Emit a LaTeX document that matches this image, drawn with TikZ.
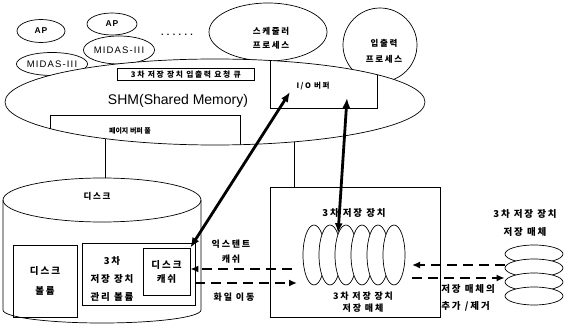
\documentclass[tikz,border=0pt]{standalone}
\usepackage{fontspec}
\setmainfont{Liberation Sans}
\newfontfamily\kr[LetterSpace=20]{Noto Sans CJK KR}
\newfontfamily\krtight{Noto Sans CJK KR}
\newfontfamily\lat[LetterSpace=12]{Liberation Sans}
\usetikzlibrary{shapes.geometric, arrows.meta}

\begin{document}
\begin{tikzpicture}[x=1pt, y=-1pt, >=latex, line width=0.7pt,
    proc/.style={draw, ellipse, fill=white, inner sep=0pt},
    kor/.style={font=\kr\bfseries\fontsize{#1}{14}\selectfont, align=center, inner sep=0pt},
    kor/.default=8.5,
    bigarrow/.style={{Latex[length=10pt,width=8pt]}-{Latex[length=10pt,width=8pt]}, line width=2.8pt},
    dasharrow/.style={-{Latex[length=8pt,width=7pt]}, line width=2.4pt, dash pattern=on 10pt off 6pt}]
  \useasboundingbox (0,0) rectangle (566,326);

  \def\Nmedia{5}
  \def\mrx{11}
  \def\mry{30}

  % processes on top of the shared memory
  \node[proc, minimum width=48, minimum height=23, font=\lat\bfseries\fontsize{8.5}{9}\selectfont] (ap1) at (41,31) {AP};
  \node[proc, minimum width=50, minimum height=22, font=\lat\bfseries\fontsize{8.5}{9}\selectfont] (ap2) at (112,24) {AP};
  \node[proc, minimum width=67, minimum height=23, font=\lat\fontsize{9.5}{9}\selectfont] (midas1) at (52,64) {MIDAS-III};
  \node[proc, minimum width=66, minimum height=28, font=\lat\fontsize{9.5}{9}\selectfont] (midas2) at (119,50) {MIDAS-III};
  \node[font=\bfseries\fontsize{9}{9}\selectfont] (more) at (177,35) {. . . . . .};
  \node[proc, minimum width=118, minimum height=58] (sched) at (268,32) {};
  \node[kor] (schedtxt) at (271,38) {스케줄러\\프로세스};
  \node[proc, minimum width=74, minimum height=74] (iop) at (380,45) {};
  \node[kor] (ioptxt) at (384,51) {입출력\\[2pt]프로세스};

  % shared memory
  \node[draw, ellipse, fill=white, inner sep=0pt, minimum width=420, minimum height=86] (shm) at (215,102) {};
  \node[font=\fontsize{14}{14}\selectfont] (shmtxt) at (178,101) {SHM(Shared Memory)};
  \node[draw, kor=7.8, minimum width=137, minimum height=12, anchor=north west] (queue) at (117,68) {3차 저장 장치 입출력 요청 큐};
  \begin{scope}
    \clip (shm.center) ellipse [x radius=210, y radius=43];
    \draw (270,40) rectangle (377,108);
    \draw (50,115) rectangle (240,170);
  \end{scope}
  \node[kor=7.5] (iobuf) at (313,86) {I/O 버퍼};
  \node[font=\krtight\bfseries\fontsize{7}{8}\selectfont, inner sep=0pt] (pool) at (130,131) {페이지 버퍼 풀};
  \coordinate (bufin) at (290,92);
  \coordinate (bufout) at (347,98);

  % disk
  \draw (3,200) -- (3,310) arc[start angle=180, end angle=0, x radius=99, y radius=13] -- (201,200);
  \draw (102,200) ellipse [x radius=99, y radius=22];
  \coordinate (disktop) at (105,178);
  \node[kor=8.5] (disk) at (97,196) {디스크};
  \node[draw, minimum width=64, minimum height=72, kor=9.5] (diskvol) at (45,281) {디스크\\[6pt]볼륨};
  \node[draw, minimum width=113, minimum height=62] (tsmgr) at (138.5,274) {};
  \node[kor=9.5] (tsmgrtxt) at (112,279) {3차\\[4pt]저장 장치\\[4pt]관리 볼륨};
  \node[draw, fill=white, minimum width=47, minimum height=47, kor=9.5] (dcache) at (166.5,271.5) {디스크\\캐쉬};

  % tertiary storage
  \node[draw, minimum width=170, minimum height=130] (tsdev) at (355,252) {};
  \node[kor=9.5] (tsdevtxt) at (354,213) {3차 저장 장치};
  \foreach \i in {0,...,\Nmedia}
    \node[proc, minimum width=2*\mrx, minimum height=2*\mry] (m\i) at ({314+16*\i},255) {};
  \node[kor=9] (tsmedia) at (363,302) {3차 저장 장치\\[-2pt]저장 매체};

  % media outside the device
  \foreach \i/\y in {1/254, 2/268, 3/282, 4/296}
    \node[proc, minimum width=58, minimum height=18] (st\i) at (534,\y) {};
  \node[kor=9.5] (sttxt) at (525,223) {3차 저장 장치\\[4pt]저장 매체};

  % connections
  \draw (disktop |- shm.198) -- (disktop);
  \draw (shm.-27) -- (shm.-27 |- tsdev.north);
  \draw[bigarrow] (bufin) -- (dcache.north east);
  \draw[bigarrow] (bufout) -- (m2.110);

  \coordinate (extin) at (292,269);
  \coordinate (moveout) at (297,283);
  \coordinate (addin) at (412,265);
  \coordinate (remout) at (412,278);
  \draw[dasharrow] (extin) -- (dcache.east |- extin);
  \draw[dasharrow] (tsmgr.east |- moveout) -- (moveout);
  \draw[dasharrow] (st2.west |- addin) -- (addin);
  \draw[dasharrow] (remout) -- (st3.west |- remout);

  \node[kor=9] (extlbl) at (231,252) {익스텐트\\[1pt]캐쉬};
  \node[kor=9] (movelbl) at (234,297) {화일 이동};
  \node[kor=9.5, align=left, anchor=west] (medlbl) at (441,298) {저장 매체의\\[3pt]추가 /제거};
\end{tikzpicture}
\end{document}
